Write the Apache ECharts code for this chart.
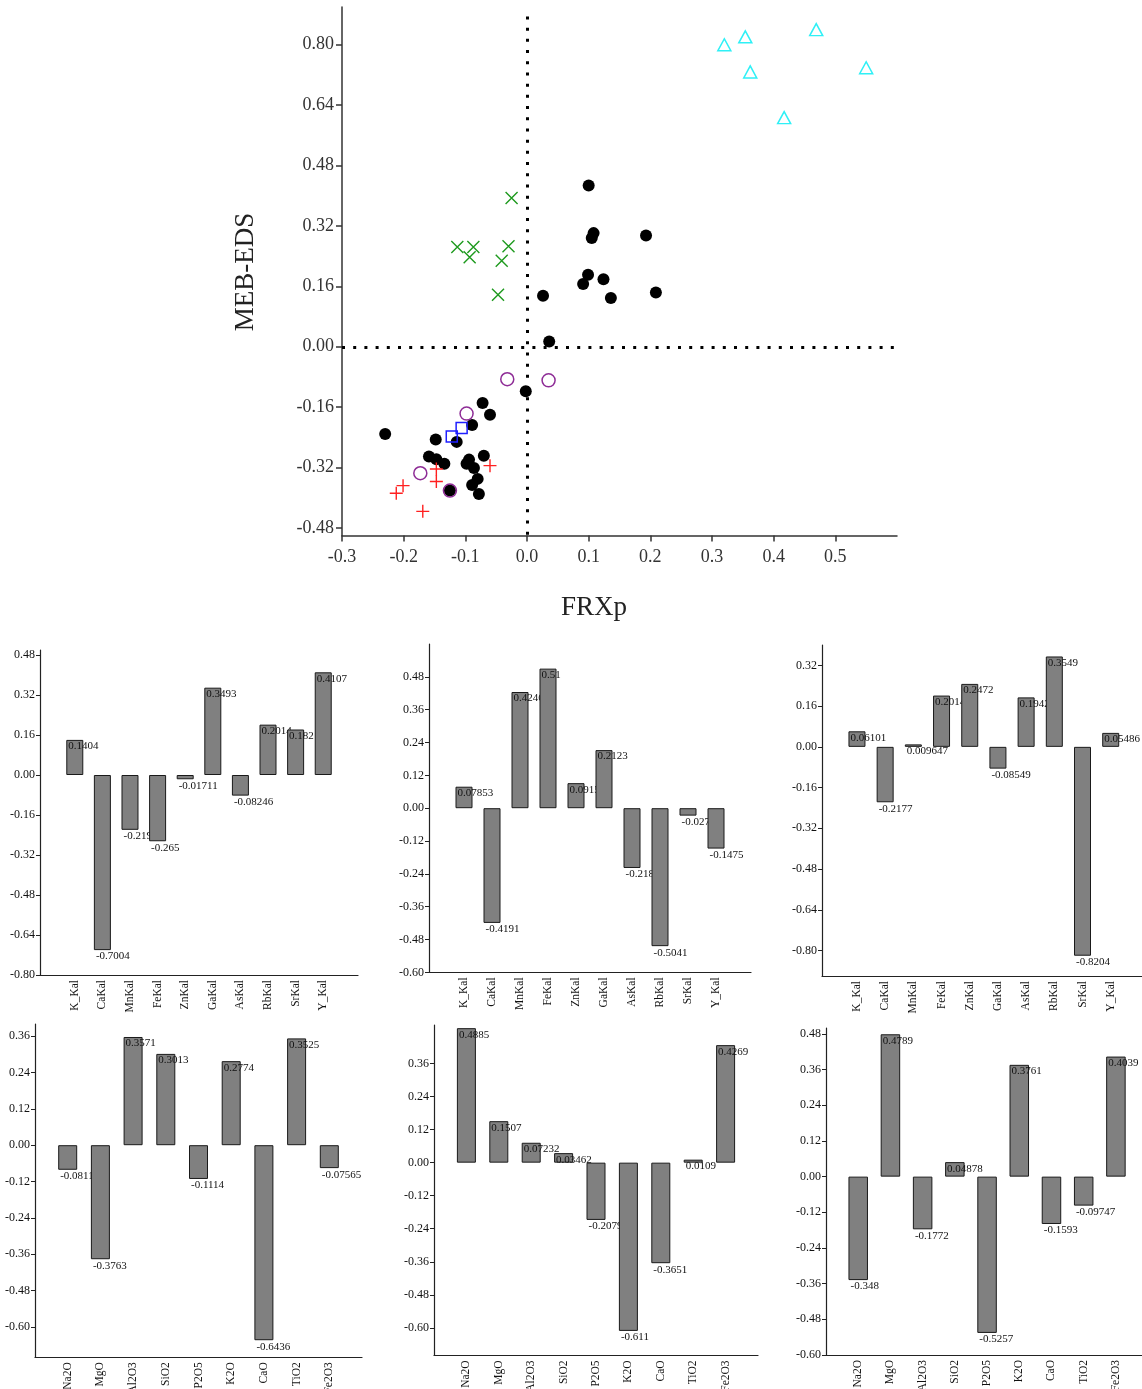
<!DOCTYPE html>
<html><head><meta charset="utf-8">
<script src="https://cdn.jsdelivr.net/npm/echarts@6/dist/echarts.min.js"></script>
<style>html,body{margin:0;padding:0;background:#fff}#c{width:1142px;height:1389px}</style>
</head><body><div id="c"></div>
<script>
// ---------- Scatter data (FRXp, MEB-EDS) ----------
const blackPts = [
  [0.100,0.427],[0.108,0.301],[0.105,0.288],[0.193,0.295],[0.099,0.191],[0.091,0.166],
  [0.124,0.179],[0.136,0.129],[0.209,0.144],[0.026,0.135],[0.036,0.014],
  [-0.002,-0.118],[-0.072,-0.149],[-0.060,-0.180],[-0.089,-0.207],[-0.230,-0.231],
  [-0.148,-0.246],[-0.114,-0.252],[-0.159,-0.291],[-0.147,-0.298],[-0.134,-0.310],
  [-0.094,-0.299],[-0.098,-0.310],[-0.070,-0.289],[-0.086,-0.321],[-0.080,-0.350],
  [-0.089,-0.366],[-0.078,-0.390],[-0.125,-0.381]
];
const greenPts = [[-0.025,0.394],[-0.113,0.264],[-0.087,0.264],[-0.093,0.237],[-0.030,0.266],[-0.041,0.228],[-0.047,0.138]];
const redPts = [[-0.060,-0.315],[-0.147,-0.324],[-0.147,-0.357],[-0.201,-0.368],[-0.212,-0.388],[-0.169,-0.436]];
const purplePts = [[-0.032,-0.086],[0.035,-0.089],[-0.098,-0.177],[-0.173,-0.335],[-0.125,-0.381]];
const bluePts = [[-0.106,-0.215],[-0.122,-0.238]];
const cyanPts = [[0.320,0.800],[0.354,0.821],[0.469,0.840],[0.362,0.728],[0.550,0.739],[0.417,0.607]];
const scatterXTicks = [-0.3,-0.2,-0.1,0.0,0.1,0.2,0.3,0.4,0.5];
const scatterYTicks = [-0.48,-0.32,-0.16,0.00,0.16,0.32,0.48,0.64,0.80];

// ---------- Bar data ----------
const kalCats = ['K_Kal','CaKal','MnKal','FeKal','ZnKal','GaKal','AsKal','RbKal','SrKal','Y_Kal'];
const oxCats = ['Na2O','MgO','Al2O3','SiO2','P2O5','K2O','CaO','TiO2','Fe2O3'];
const bar1 = [0.1404,-0.7004,-0.2193,-0.265,-0.01711,0.3493,-0.08246,0.2014,0.182,0.4107];
const bar2 = [0.07853,-0.4191,0.4246,0.51,0.0915,0.2123,-0.2184,-0.5041,-0.0271,-0.1475];
const bar3 = [0.06101,-0.2177,0.009647,0.2014,0.2472,-0.08549,0.1942,0.3549,-0.8204,0.05486];
const bar4 = [-0.0811,-0.3763,0.3571,0.3013,-0.1114,0.2774,-0.6436,0.3525,-0.07565];
const bar5 = [0.4885,0.1507,0.07232,0.03462,-0.2079,-0.611,-0.3651,0.0109,0.4269];
const bar6 = [-0.348,0.4789,-0.1772,0.04878,-0.5257,0.3761,-0.1593,-0.09747,0.4039];
const ticks16a = [-0.80,-0.64,-0.48,-0.32,-0.16,0.00,0.16,0.32,0.48];
const ticks12a = [-0.60,-0.48,-0.36,-0.24,-0.12,0.00,0.12,0.24,0.36,0.48];
const ticks16b = [-0.80,-0.64,-0.48,-0.32,-0.16,0.00,0.16,0.32];
const ticks12b = [-0.60,-0.48,-0.36,-0.24,-0.12,0.00,0.12,0.24,0.36];
const ticks12c = [-0.60,-0.48,-0.36,-0.24,-0.12,0.00,0.12,0.24,0.36,0.48];

const SERIF = 'Liberation Serif';
const chart = echarts.init(document.getElementById('c'), null, {renderer: 'canvas'});

const grids = [
  {left: 342, top: 7, width: 555, height: 528.5},
  {left: 40, top: 650, width: 318, height: 325},
  {left: 429, top: 644, width: 322, height: 328.4},
  {left: 822, top: 645, width: 320, height: 331},
  {left: 35, top: 1024, width: 327, height: 333.3},
  {left: 434, top: 1025, width: 324, height: 330.4},
  {left: 826, top: 1028, width: 316, height: 327}
].map(g => Object.assign({outerBoundsMode: 'none', containLabel: false}, g));

const xAxes = [{
  gridIndex: 0, type: 'value', min: -0.3, max: 0.6,
  splitLine: {show: false},
  axisLine: {show: true, onZero: false, lineStyle: {color: '#333', width: 1.5}},
  axisTick: {show: true, length: 6, customValues: scatterXTicks, lineStyle: {color: '#333', width: 1.5}},
  axisLabel: {customValues: scatterXTicks, formatter: v => v.toFixed(1), fontFamily: SERIF, fontSize: 18, color: '#333', margin: 13}
}];
const yAxes = [{
  gridIndex: 0, type: 'value', min: -0.5, max: 0.9,
  splitLine: {show: false},
  axisLine: {show: true, onZero: false, lineStyle: {color: '#333', width: 1.5}},
  axisTick: {show: true, length: 6, customValues: scatterYTicks, lineStyle: {color: '#333', width: 1.5}},
  axisLabel: {customValues: scatterYTicks, formatter: v => v.toFixed(2), fontFamily: SERIF, fontSize: 18, color: '#333', margin: 8}
}];

const dotted = {color: '#000', width: 3, type: [3, 8.2], cap: 'butt'};
const series = [
  {type: 'scatter', xAxisIndex: 0, yAxisIndex: 0, data: blackPts, symbol: 'circle', symbolSize: 12,
   itemStyle: {color: '#000', opacity: 1}, z: 3,
   markLine: {silent: true, symbol: 'none', label: {show: false}, lineStyle: dotted, animation: false,
     data: [[{coord: [0, 0.875]}, {coord: [0, -0.5]}], {yAxis: 0}]}},
  {type: 'scatter', xAxisIndex: 0, yAxisIndex: 0, data: greenPts, symbol: 'path://M0,0L10,10M10,0L0,10', symbolSize: 12,
   itemStyle: {color: '#1e9a1e', borderColor: '#1e9a1e', borderWidth: 1.4, opacity: 1}, z: 3},
  {type: 'scatter', xAxisIndex: 0, yAxisIndex: 0, data: redPts, symbol: 'path://M0,5L10,5M5,0L5,10', symbolSize: 13,
   itemStyle: {color: '#ff2020', borderColor: '#ff2020', borderWidth: 1.4, opacity: 1}, z: 3},
  {type: 'scatter', xAxisIndex: 0, yAxisIndex: 0, data: purplePts, symbol: 'circle', symbolSize: 13,
   itemStyle: {color: 'rgba(0,0,0,0)', borderColor: '#8e2c96', borderWidth: 1.5, opacity: 1}, z: 4},
  {type: 'scatter', xAxisIndex: 0, yAxisIndex: 0, data: bluePts, symbol: 'rect', symbolSize: 11,
   itemStyle: {color: 'rgba(0,0,0,0)', borderColor: '#1f1fff', borderWidth: 1.5, opacity: 1}, z: 4},
  {type: 'scatter', xAxisIndex: 0, yAxisIndex: 0, data: cyanPts, symbol: 'triangle', symbolSize: [13, 12],
   itemStyle: {color: 'rgba(0,0,0,0)', borderColor: '#2ff0f6', borderWidth: 1.5, opacity: 1}, z: 4}
];

function addBarPanel(idx, cats, vals, xr, yr, yTicks, barW) {
  const catIdx = cats.map((c, i) => i);
  xAxes.push({
    gridIndex: idx, type: 'value', min: xr[0], max: xr[1],
    splitLine: {show: false},
    axisLine: {show: true, onZero: false, lineStyle: {color: '#222', width: 1.2}},
    axisTick: {show: false},
    axisLabel: {customValues: catIdx, formatter: v => cats[Math.round(v)], rotate: 90,
      fontFamily: SERIF, fontSize: 11.5, color: '#111', margin: 5}
  });
  yAxes.push({
    gridIndex: idx, type: 'value', min: yr[0], max: yr[1],
    splitLine: {show: false},
    axisLine: {show: true, onZero: false, lineStyle: {color: '#222', width: 1.2}},
    axisTick: {show: true, length: 4, customValues: yTicks, lineStyle: {color: '#222', width: 1}},
    axisLabel: {customValues: yTicks, formatter: v => v.toFixed(2), fontFamily: SERIF, fontSize: 12, color: '#111', margin: 5}
  });
  vals.forEach((v, i) => {
    series.push({
      type: 'bar', xAxisIndex: idx, yAxisIndex: idx, z: 10 + i, barWidth: barW, barGap: '-100%',
      silent: true,
      itemStyle: {color: '#808080', borderColor: '#1a1a1a', borderWidth: 1},
      label: {show: true, formatter: p => String(p.value[1]), align: 'left', verticalAlign: 'top',
        offset: [2, 1], fontFamily: SERIF, fontSize: 11, color: '#111'},
      data: [{value: [i, v], label: {position: v >= 0 ? ['0%', '0%'] : ['0%', '100%']}}]
    });
  });
}
addBarPanel(1, kalCats, bar1, [-1.26, 10.26], [-0.8, 0.5], ticks16a, 17);
addBarPanel(2, kalCats, bar2, [-1.25, 10.25], [-0.6, 0.6], ticks12a, 17);
addBarPanel(3, kalCats, bar3, [-1.24, 10.11], [-0.9, 0.4], ticks16b, 17);
addBarPanel(4, oxCats, bar4, [-1, 9], [-0.7, 0.4], ticks12b, 19);
addBarPanel(5, oxCats, bar5, [-1, 9], [-0.7, 0.5], ticks12b, 19);
addBarPanel(6, oxCats, bar6, [-1, 8.81], [-0.6, 0.5], ticks12c, 19.5);

chart.setOption({
  animation: false,
  backgroundColor: '#fff',
  grid: grids,
  xAxis: xAxes,
  yAxis: yAxes,
  series: series,
  graphic: [
    {type: 'text', x: 246, y: 272, rotation: Math.PI / 2,
     style: {text: 'MEB-EDS', font: '27px "Liberation Serif"', fill: '#222', textAlign: 'center', textVerticalAlign: 'middle'}},
    {type: 'text', x: 594, y: 608,
     style: {text: 'FRXp', font: '27px "Liberation Serif"', fill: '#222', textAlign: 'center', textVerticalAlign: 'middle'}}
  ]
});
</script>
</body></html>
